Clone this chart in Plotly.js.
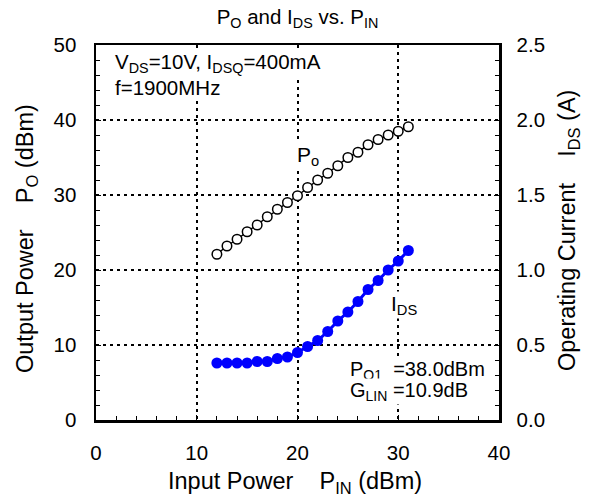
<!DOCTYPE html>
<html>
<head>
<meta charset="utf-8">
<script src="https://cdn.plot.ly/plotly-3.0.1.min.js"></script>
<style>html,body{margin:0;padding:0;background:#fff;}#chart{width:589px;height:497px;}</style>
</head>
<body>
<div id="chart"></div>
<script>
const pin = [12,13,14,15,16,17,18,19,20,21,22,23,24,25,26,27,28,29,30,31];
const pout = [22.1,23.2,24.1,25.1,26.0,27.1,28.1,29.0,29.9,31.0,32.0,32.9,33.9,35.0,35.7,36.7,37.4,38.0,38.5,39.1];
const ids = [0.38,0.38,0.38,0.38,0.39,0.39,0.41,0.42,0.45,0.49,0.53,0.59,0.66,0.72,0.79,0.87,0.93,1.00,1.06,1.13];

const FONT = 'Liberation Sans, Arial, sans-serif';
const TF = {family: FONT, size: 20.5, color: 'black'};
const AF = {family: FONT, size: 23.5, color: 'black'};

const traces = [
  {x: pin, y: pout, type: 'scatter', mode: 'lines+markers', name: 'Po',
   line: {color: 'black', width: 1.5},
   marker: {symbol: 'circle', size: 9.5, color: 'white', line: {color: 'black', width: 1.5}},
   yaxis: 'y', showlegend: false},
  {x: pin, y: ids, type: 'scatter', mode: 'lines+markers', name: 'IDS',
   line: {color: '#0000ff', width: 3},
   marker: {symbol: 'circle', size: 11, color: '#0000ff'},
   yaxis: 'y2', showlegend: false}
];

const axisCommon = {
  showline: true, linecolor: 'black', linewidth: 2.5,
  ticks: 'inside', ticklen: 5, tickwidth: 1, tickcolor: 'black',
  zeroline: false,
  tickfont: TF
};

const layout = {
  width: 589, height: 497,
  margin: {l: 96, r: 90, t: 45, b: 77},
  paper_bgcolor: 'white', plot_bgcolor: 'white',
  font: {family: FONT, color: 'black'},
  title: {text: 'P<sub>O</sub> and I<sub>DS</sub> vs. P<sub>IN</sub>', font: {family: FONT, size: 20.5, color: 'black'},
          x: 0.5, xanchor: 'center', xref: 'paper', y: 1 - 17/497, yref: 'container', yanchor: 'middle'},
  xaxis: Object.assign({}, axisCommon, {
    range: [0, 40], dtick: 10, mirror: true,
    showgrid: true, gridcolor: 'black', gridwidth: 2, griddash: '3px,4px',
    minor: {dtick: 2, ticks: 'inside', ticklen: 4, tickcolor: 'black', showgrid: false},
    ticklabelstandoff: 13
  }),
  yaxis: Object.assign({}, axisCommon, {
    range: [0, 50], dtick: 10, mirror: true,
    showgrid: true, gridcolor: 'black', gridwidth: 2, griddash: '3px,4px',
    minor: {dtick: 2, ticks: 'inside', ticklen: 4, tickcolor: 'black', showgrid: false},
    ticklabelstandoff: 13
  }),
  yaxis2: Object.assign({}, axisCommon, {
    range: [0, 2.5], dtick: 0.5, tickformat: '.1f', overlaying: 'y', side: 'right',
    showgrid: false,
    minor: {dtick: 0.1, ticks: 'inside', ticklen: 4, tickcolor: 'black', showgrid: false},
    ticklabelstandoff: 11
  }),
  annotations: [
    {text: 'Input Power    P<sub>IN</sub> (dBm)', xref: 'paper', yref: 'paper', x: 0.495, y: (420-482)/375, xanchor: 'center', yanchor: 'middle', showarrow: false, font: AF},
    {text: 'Output Power    P<sub>O</sub> (dBm)', textangle: -90, xref: 'paper', yref: 'paper', x: (26-96)/403, y: (420-239)/375, xanchor: 'center', yanchor: 'middle', showarrow: false, font: AF},
    {text: 'Operating Current    I<sub>DS</sub> (A)', textangle: -90, xref: 'paper', yref: 'paper', x: (568-96)/403, y: (420-231)/375, xanchor: 'center', yanchor: 'middle', showarrow: false, font: AF},
    {text: 'V<sub>DS</sub>=10V, I<sub>DSQ</sub>=400mA', xref: 'paper', yref: 'paper', x: (114-96)/403, y: (420-63)/375, xanchor: 'left', yanchor: 'middle', showarrow: false, bgcolor: 'white', borderpad: 0, font: TF},
    {text: 'f=1900MHz', xref: 'paper', yref: 'paper', x: (114-96)/403, y: (420-87)/375, xanchor: 'left', yanchor: 'middle', showarrow: false, bgcolor: 'white', borderpad: 0, font: TF},
    {text: 'P<sub>o</sub>', xref: 'x', yref: 'y', x: 21.0, y: 35.2, xanchor: 'center', yanchor: 'middle', showarrow: false, bgcolor: 'white', borderpad: 0, font: {family: FONT, size: 21, color: 'black'}},
    {text: 'I<sub>DS</sub>', xref: 'x', yref: 'y', x: 30.6, y: 15.3, xanchor: 'center', yanchor: 'middle', showarrow: false, bgcolor: 'white', borderpad: 0, font: {family: FONT, size: 21, color: 'black'}},
    {text: 'P<sub>O1</sub>  =38.0dBm', xref: 'paper', yref: 'paper', x: (349-96)/403, y: (420-370)/375, xanchor: 'left', yanchor: 'middle', showarrow: false, bgcolor: 'white', borderpad: 0, font: {family: FONT, size: 20, color: 'black'}},
    {text: 'G<sub>LIN</sub> =10.9dB', xref: 'paper', yref: 'paper', x: (349-96)/403, y: (420-391)/375, xanchor: 'left', yanchor: 'middle', showarrow: false, bgcolor: 'white', borderpad: 0, font: {family: FONT, size: 20, color: 'black'}}
  ]
};

Plotly.newPlot('chart', traces, layout, {displayModeBar: false, staticPlot: true});
</script>
</body>
</html>
